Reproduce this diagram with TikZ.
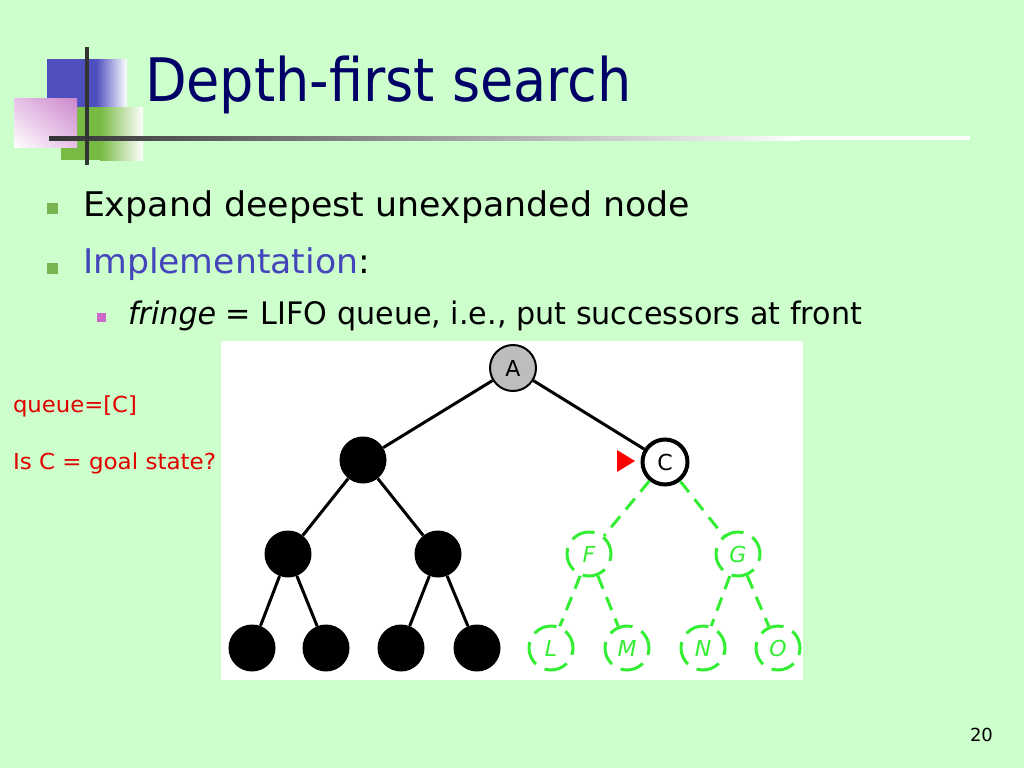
\documentclass[tikz,border=0pt]{standalone}
\usepackage{fontspec}
\setmainfont{DejaVu Sans}
\usepackage{graphicx}
\usetikzlibrary{shapes.geometric,shadings}
\definecolor{bg}{HTML}{CCFFCC}
\definecolor{navy}{HTML}{000066}
\definecolor{bulgreen}{HTML}{77B550}
\definecolor{bulpink}{HTML}{CC66CC}
\definecolor{implblue}{HTML}{4444BB}
\definecolor{redtxt}{HTML}{E00000}
\definecolor{treegreen}{HTML}{33EE33}
\definecolor{nodegray}{HTML}{BDBDBD}
\definecolor{logoblue}{HTML}{4F4FBF}
\definecolor{logogreen}{HTML}{77BB44}
\definecolor{logopink}{HTML}{CC88CC}
\definecolor{logopinkl}{HTML}{E6C0E6}
\definecolor{logoline}{HTML}{333333}
\newcommand{\fitw}[2]{\resizebox{#1}{\height}{#2}}
\newcommand{\fsz}[1]{\fontsize{#1}{#1}\selectfont}
\begin{document}
\begin{tikzpicture}[x=1pt,y=-1pt,
  txt/.style={anchor=base west, inner sep=0pt, outer sep=0pt},
  blk/.style={circle, fill=black, minimum size=47pt, inner sep=0pt},
  anode/.style={circle, fill=nodegray, draw=black, line width=2pt, minimum size=46pt, inner sep=0pt, font=\fsz{22}},
  cnode/.style={circle, fill=white, draw=black, line width=4pt, minimum size=45pt, inner sep=0pt, font=\fsz{22}},
  gnode/.style={circle, draw=treegreen, dash pattern=on 24pt off 10pt, dash phase=5pt, line width=3pt, minimum size=44pt, inner sep=0pt, text=treegreen, font=\fsz{22}\itshape},
  bedge/.style={draw=black, line width=3pt},
  gedge/.style={draw=treegreen, line width=3pt, dash pattern=on 14pt off 9pt}]
\fill[bg] (0,0) rectangle (1024,768);
\useasboundingbox (0,0) rectangle (1024,768);
% logo
\fill[logoblue] (47,59) rectangle (96,107);
\shade[left color=logoblue, right color=white] (96,59) rectangle (127,107);
\fill[logogreen] (61,107) rectangle (100,160);
\shade[left color=logogreen, right color=white] (100,107) rectangle (143,160);
\shade[upper right=logopink, upper left=logopinkl, lower right=logopinkl, lower left=white] (14,98) rectangle (77,147);
\shade[left color=logoline, right color=white] (49,136) rectangle (800,140);
\fill[white] (800,136) rectangle (970,140);
\fill[logoline] (85,47) rectangle (89,165);
% title
\node[txt, text=navy] (title) at (145,101) {\fitw{487pt}{\fsz{60}Depth-first search}};
% bullets
\fill[bulgreen] (47,203) rectangle (58,214);
\node[txt] (b1) at (83,216) {\fitw{607pt}{\fsz{34}Expand deepest unexpanded node}};
\fill[bulgreen] (47,263) rectangle (58,274);
\node[txt] (b2) at (83,273) {\fitw{287pt}{\fsz{34}\textcolor{implblue}{Implementation}:}};
\fill[bulpink] (97,313) rectangle (106,322);
\node[txt] (b3) at (128,324) {\fitw{734pt}{\fsz{31}\textit{fringe} = LIFO queue, i.e., put successors at front}};
% red notes
\node[txt, text=redtxt] (q) at (13,412) {\fitw{124pt}{\fsz{22}queue=[C]}};
\node[txt, text=redtxt] (g) at (13,469) {\fitw{203pt}{\fsz{22}Is C = goal state?}};
% page number
\node[txt] (pg) at (970,741) {\fsz{18}20};
% image area
\fill[white] (221,341) rectangle (803,680);
% tree nodes
\node[anode] (A) at (513,368) {A};
\node[blk] (B) at (363,460) {};
\node[cnode] (C) at (665,462) {C};
\node[blk] (D) at (288,554) {};
\node[blk] (E) at (438,554) {};
\node[blk] (H) at (252,648) {};
\node[blk] (I) at (326,648) {};
\node[blk] (J) at (401,648) {};
\node[blk] (K) at (477,648) {};
\node[gnode] (F) at (589,554) {F};
\node[gnode] (G) at (738,554) {G};
\node[gnode] (L) at (551,648) {L};
\node[gnode] (M) at (627,648) {M};
\node[gnode] (N) at (703,648) {N};
\node[gnode] (O) at (778,648) {O};
% edges
\path[bedge] (A) -- (B) (A) -- (C) (B) -- (D) (B) -- (E)
  (D) -- (H) (D) -- (I) (E) -- (J) (E) -- (K);
\path[gedge] (C) -- (F) (C) -- (G) (F) -- (L) (F) -- (M) (G) -- (N) (G) -- (O);
% pointer
\fill[red] (617,450) -- (635,461) -- (617,472) -- cycle;
\end{tikzpicture}
\end{document}
